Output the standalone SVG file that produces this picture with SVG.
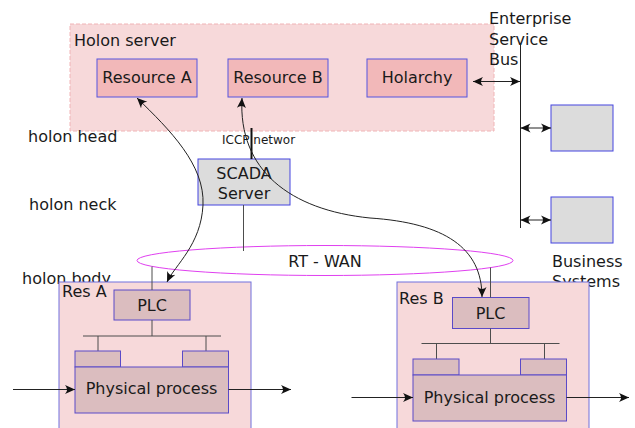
<svg xmlns="http://www.w3.org/2000/svg" width="635" height="428" viewBox="0 0 635 428">
<style>
text{font-family:"DejaVu Sans","Liberation Sans",sans-serif;font-size:16px;fill:#1a1a1a}
.sm{font-size:12px}
.c{text-anchor:middle}
.res{fill:#f2b8b9;stroke:#5555e0;stroke-width:1}
.gray{fill:#dcdcdc;stroke:#4444e0;stroke-width:1}
.grp{fill:#f7d9da;stroke:#7070dd;stroke-width:1}
.plc{fill:#dbbdbf;stroke:#5a4ac8;stroke-width:1}
.ln{stroke:#4d4d4d;stroke-width:1;fill:none}
.con{stroke:#222;stroke-width:1;fill:none}
</style>
<defs>
<marker id="ah" viewBox="-10 -6 12 12" markerWidth="12" markerHeight="12" refX="0" refY="0" orient="auto-start-reverse" markerUnits="userSpaceOnUse">
<path d="M0,0 L-10,-4.5 Q-6,0 -10,4.5 Z" fill="#111"/>
</marker>
</defs>
<g id="holon-server">
<rect x="70" y="24" width="424" height="107" fill="#f7d9da" stroke="#f0b4b6" stroke-dasharray="4,2"/>
<text x="74" y="46">Holon server</text>
</g>
<g id="resource-a"><rect class="res" x="97" y="59" width="100" height="38"/><text class="c" x="147" y="83">Resource A</text></g>
<g id="resource-b"><rect class="res" x="228" y="59" width="100" height="38"/><text class="c" x="278" y="83">Resource B</text></g>
<g id="holarchy"><rect class="res" x="367" y="59" width="100" height="38"/><text class="c" x="417" y="83">Holarchy</text></g>
<g id="esb">
<text x="489" y="24">Enterprise</text><text x="489" y="45">Service</text><text x="489" y="65">Bus</text>
</g>
<g id="biz1"><rect class="gray" x="551" y="105" width="62" height="46"/></g>
<g id="biz2"><rect class="gray" x="551" y="197" width="62" height="46"/></g>
<g id="business-label"><text x="552" y="267">Business</text><text x="552" y="287">Systems</text></g>
<g id="labels">
<text x="28" y="142">holon head</text>
<text x="29" y="210">holon neck</text>
<text x="22" y="284">holon body</text>
<text class="sm" x="222" y="144">ICCP networ</text>
</g>
<g id="scada"><rect class="gray" x="198" y="159" width="92" height="46" stroke="#6b6bd8"/><text class="c" x="244" y="179">SCADA</text><text class="c" x="244" y="199">Server</text></g>
<g id="rt-wan"><ellipse cx="325" cy="260.5" rx="188" ry="15" fill="none" stroke="#e040f0" stroke-width="1"/><text class="c" x="325" y="267">RT - WAN</text></g>
<g id="res-a">
<rect class="grp" x="59" y="282" width="192" height="150"/>
<text x="62" y="297">Res A</text>
<rect class="plc" x="114" y="290" width="76" height="30"/><text class="c" x="152" y="311">PLC</text>
<path class="ln" d="M152,320V336M83,336H221M98,336V351M206,336V351"/>
<rect class="plc" x="75" y="351" width="45.5" height="16"/>
<rect class="plc" x="182.5" y="351" width="46" height="16"/>
<rect class="plc" x="75" y="367" width="153.5" height="46"/>
<text class="c" x="151.5" y="394">Physical process</text>
</g>
<g id="res-b">
<rect class="grp" x="397" y="282" width="192" height="150"/>
<text x="399" y="304">Res B</text>
<rect class="plc" x="452.5" y="297.5" width="76.5" height="31"/><text class="c" x="490.5" y="319">PLC</text>
<path class="ln" d="M490.5,328.5V343.5M421.5,343.5H559.5M436.5,343.5V359M544.5,343.5V359"/>
<rect class="plc" x="413" y="359" width="46" height="16"/>
<rect class="plc" x="520.5" y="359" width="46" height="16"/>
<rect class="plc" x="413" y="375" width="153.5" height="46"/>
<text class="c" x="489.5" y="403">Physical process</text>
</g>
<g id="connectors">
<path class="con" d="M520.5,43V228"/>
<path class="con" d="M473,81.5H520" marker-start="url(#ah)" marker-end="url(#ah)"/>
<path class="con" d="M520.5,128H551" marker-start="url(#ah)" marker-end="url(#ah)"/>
<path class="con" d="M520.5,220H551" marker-start="url(#ah)" marker-end="url(#ah)"/>
<path d="M251.5,128V159" stroke="#111" stroke-width="2"/>
<path class="ln" d="M243.5,205V251"/>
<path class="ln" d="M152,266.5V290"/>
<path class="ln" d="M490.5,267.5V297.5"/>
<path class="con" d="M137,98C170,130 205,165 203,205C201,245 175,265 167,282" marker-start="url(#ah)" marker-end="url(#ah)"/>
<path class="con" d="M242,98C238,170 290,210 370,218C445,223 482,248 482,297" marker-start="url(#ah)" marker-end="url(#ah)"/>
<path class="con" d="M13,389.5H75" marker-end="url(#ah)"/>
<path class="con" d="M228.5,389.5H291" marker-end="url(#ah)"/>
<path class="con" d="M351.5,397.5H413" marker-end="url(#ah)"/>
<path class="con" d="M566.5,397.5H629" marker-end="url(#ah)"/>
</g>
</svg>
